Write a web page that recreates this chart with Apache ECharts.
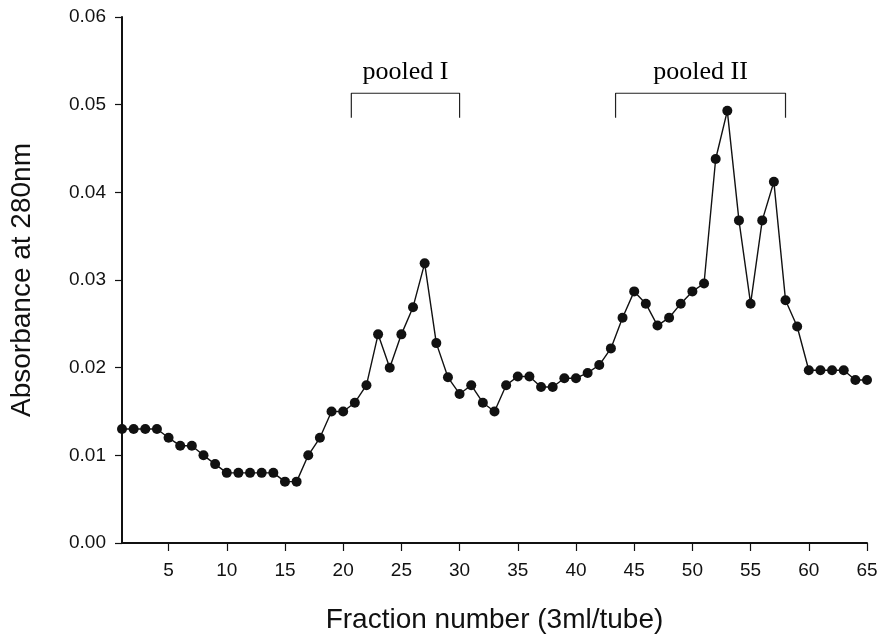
<!DOCTYPE html>
<html>
<head>
<meta charset="utf-8">
<script src="https://cdn.jsdelivr.net/npm/echarts@6/dist/echarts.min.js"></script>
<style>html,body{margin:0;padding:0;background:#fff;}#chart{width:885px;height:644px;}</style>
</head>
<body>
<div id="chart"></div>
<script>
// Fraction numbers 1..65
var fractions = [1,2,3,4,5,6,7,8,9,10,11,12,13,14,15,16,17,18,19,20,21,22,23,24,25,26,27,28,29,30,31,32,33,34,35,36,37,38,39,40,41,42,43,44,45,46,47,48,49,50,51,52,53,54,55,56,57,58,59,60,61,62,63,64,65];
var absorbance = [0.0130,0.0130,0.0130,0.0130,0.0120,0.0111,0.0111,0.0100,0.0090,0.0080,0.0080,0.0080,0.0080,0.0080,0.0070,0.0070,0.0100,0.0120,0.0150,0.0150,0.0160,0.0180,0.0238,0.0200,0.0238,0.0269,0.0319,0.0228,0.0189,0.0170,0.0180,0.0160,0.0150,0.0180,0.0190,0.0190,0.0178,0.0178,0.0188,0.0188,0.0194,0.0203,0.0222,0.0257,0.0287,0.0273,0.0248,0.0257,0.0273,0.0287,0.0296,0.0438,0.0493,0.0368,0.0273,0.0368,0.0412,0.0277,0.0247,0.0197,0.0197,0.0197,0.0197,0.0186,0.0186];
var xTicks = [5,10,15,20,25,30,35,40,45,50,55,60,65];
var yTicks = [0.00,0.01,0.02,0.03,0.04,0.05,0.06];
// pooled fraction ranges (brackets)
var poolNames = ['pooled I','pooled II'];
var poolFrom = [20.7, 43.4];
var poolTo = [30.0, 58.0];
var bracketTop = 0.0513;
var bracketBottom = 0.0485;
var labelLevel = 0.0537;

var mainData = fractions.map(function(f,i){return [f, absorbance[i]];});
var bracketSeries = poolNames.map(function(n,i){
  return {
    type:'line', silent:true, symbol:'none', z:3,
    lineStyle:{color:'#222', width:1.2},
    data:[[poolFrom[i],bracketBottom],[poolFrom[i],bracketTop],[poolTo[i],bracketTop],[poolTo[i],bracketBottom]]
  };
});
var labelSeries = {
  type:'scatter', silent:true, symbolSize:1, z:4,
  itemStyle:{opacity:0},
  data: poolNames.map(function(n,i){return {value:[(poolFrom[i]+poolTo[i])/2, labelLevel], name:n};}),
  label:{show:true, position:'inside', formatter:function(p){return p.name;},
    color:'#000', opacity:1, fontFamily:'Liberation Serif', fontSize:26}
};

var chart = echarts.init(document.getElementById('chart'));
chart.setOption({
  animation:false,
  backgroundColor:'#fff',
  grid:{left:119, right:18, top:17, bottom:101, containLabel:false},
  xAxis:{
    type:'value', min:1, max:65,
    name:'Fraction number (3ml/tube)', nameLocation:'middle', nameGap:63,
    nameTextStyle:{fontFamily:'Liberation Sans', fontSize:28, color:'#111'},
    axisLine:{show:true, onZero:false, lineStyle:{color:'#111', width:2}},
    axisTick:{show:true, customValues:xTicks, length:8, lineStyle:{color:'#111', width:1.2}},
    axisLabel:{customValues:xTicks, margin:18, fontFamily:'Liberation Sans', fontSize:19, color:'#111'},
    splitLine:{show:false}
  },
  yAxis:{
    type:'value', min:0, max:0.06, interval:0.01,
    name:'Absorbance at 280nm', nameLocation:'middle', nameGap:86, nameRotate:90,
    nameTextStyle:{fontFamily:'Liberation Sans', fontSize:28, color:'#111'},
    axisLine:{show:true, lineStyle:{color:'#111', width:2}},
    axisTick:{show:true, length:7, lineStyle:{color:'#111', width:1.2}},
    axisLabel:{margin:16, fontFamily:'Liberation Sans', fontSize:19, color:'#111',
      formatter:function(v){return v.toFixed(2);}},
    splitLine:{show:false}
  },
  series:[{
    type:'line', data:mainData, symbol:'circle', symbolSize:10, z:5,
    lineStyle:{color:'#111', width:1.4},
    itemStyle:{color:'#111'}
  }].concat(bracketSeries).concat([labelSeries])
});
</script>
</body>
</html>
